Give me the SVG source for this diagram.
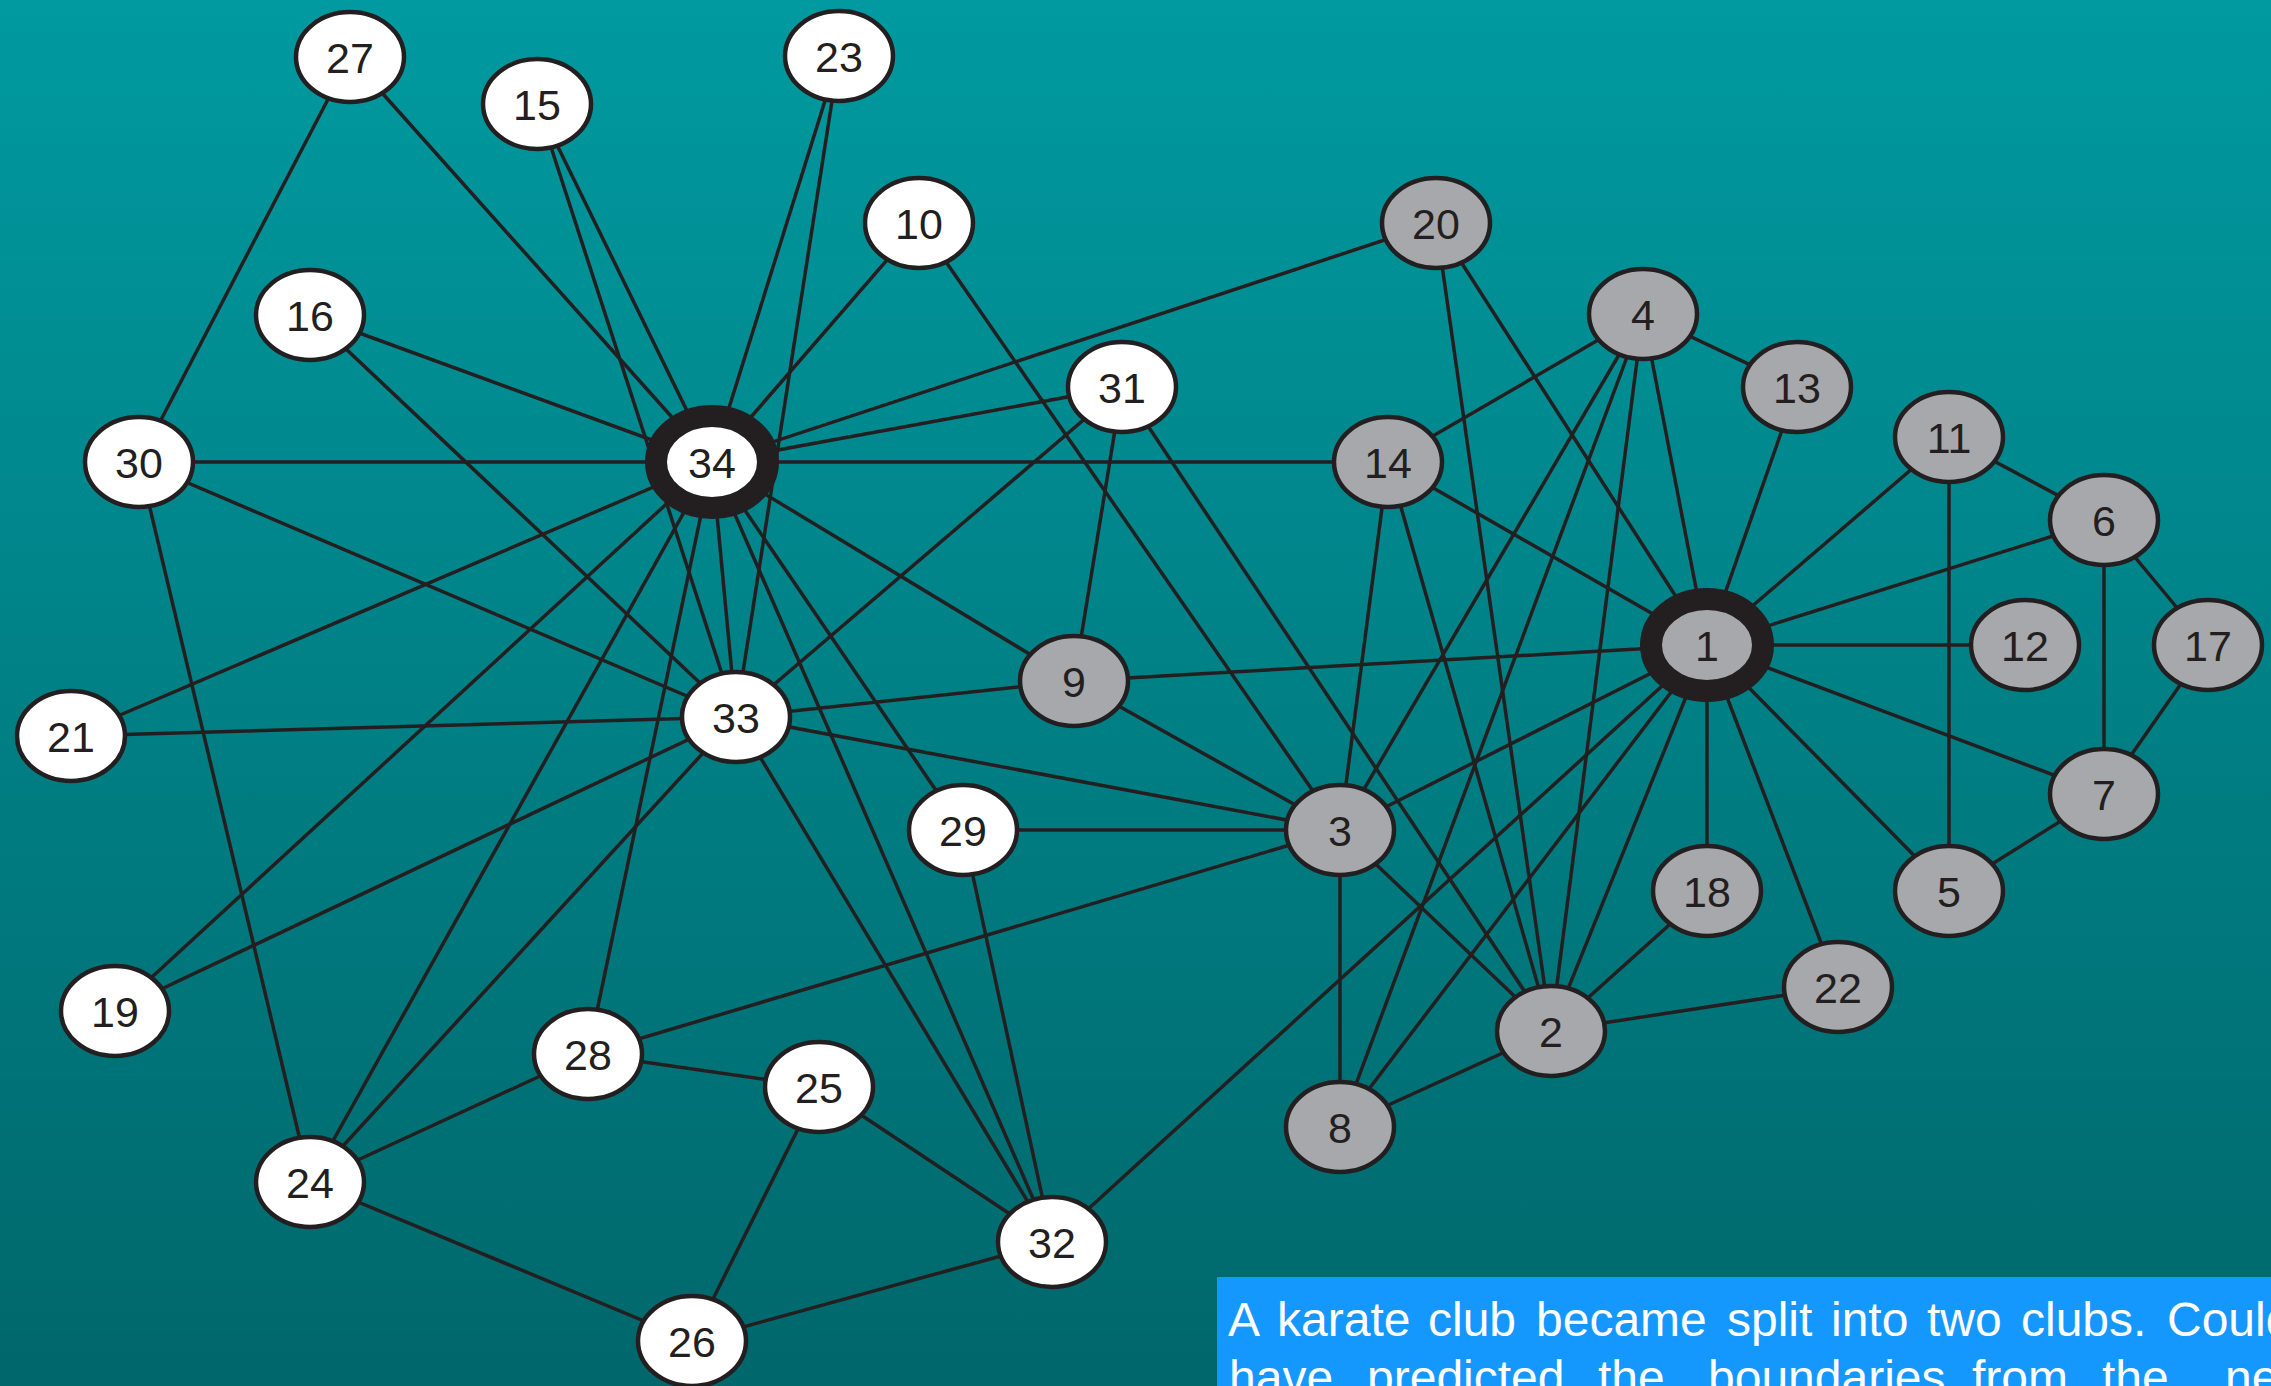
<svg xmlns="http://www.w3.org/2000/svg" width="2271" height="1386" viewBox="0 0 2271 1386">
<defs>
<linearGradient id="bg" x1="0" y1="0" x2="0" y2="1">
<stop offset="0" stop-color="#009aa0"/>
<stop offset="1" stop-color="#00676b"/>
</linearGradient>
</defs>
<style>
.e{stroke:#231f20;stroke-width:3.5;fill:none}
.n ellipse{stroke:#231f20;stroke-width:4.5}
.w ellipse{fill:#ffffff}
.g ellipse{fill:#a7a8ab}
.hub ellipse{stroke-width:22}
.n text{font-family:"Liberation Sans",Arial,sans-serif;font-size:43px;fill:#231f20;text-anchor:middle}
.cap{font-family:"Liberation Sans",Arial,sans-serif;font-size:48px;fill:#ffffff}
</style>
<rect x="0" y="0" width="2271" height="1386" fill="url(#bg)"/>
<g id="edges" class="e">
<line x1="1707" y1="645" x2="1551" y2="1031"/>
<line x1="1707" y1="645" x2="1340" y2="830"/>
<line x1="1707" y1="645" x2="1643" y2="314"/>
<line x1="1707" y1="645" x2="1949" y2="891"/>
<line x1="1707" y1="645" x2="2104" y2="520"/>
<line x1="1707" y1="645" x2="2104" y2="794"/>
<line x1="1707" y1="645" x2="1340" y2="1127"/>
<line x1="1707" y1="645" x2="1074" y2="681"/>
<line x1="1707" y1="645" x2="1949" y2="437"/>
<line x1="1707" y1="645" x2="2025" y2="645"/>
<line x1="1707" y1="645" x2="1797" y2="387"/>
<line x1="1707" y1="645" x2="1388" y2="462"/>
<line x1="1707" y1="645" x2="1707" y2="891"/>
<line x1="1707" y1="645" x2="1436" y2="223"/>
<line x1="1707" y1="645" x2="1838" y2="987"/>
<line x1="1707" y1="645" x2="1052" y2="1242"/>
<line x1="1551" y1="1031" x2="1340" y2="830"/>
<line x1="1551" y1="1031" x2="1643" y2="314"/>
<line x1="1551" y1="1031" x2="1340" y2="1127"/>
<line x1="1551" y1="1031" x2="1388" y2="462"/>
<line x1="1551" y1="1031" x2="1707" y2="891"/>
<line x1="1551" y1="1031" x2="1436" y2="223"/>
<line x1="1551" y1="1031" x2="1838" y2="987"/>
<line x1="1551" y1="1031" x2="1122" y2="387"/>
<line x1="1340" y1="830" x2="1643" y2="314"/>
<line x1="1340" y1="830" x2="1340" y2="1127"/>
<line x1="1340" y1="830" x2="1074" y2="681"/>
<line x1="1340" y1="830" x2="919" y2="223"/>
<line x1="1340" y1="830" x2="1388" y2="462"/>
<line x1="1340" y1="830" x2="588" y2="1054"/>
<line x1="1340" y1="830" x2="963" y2="830"/>
<line x1="1340" y1="830" x2="736" y2="717"/>
<line x1="1643" y1="314" x2="1340" y2="1127"/>
<line x1="1643" y1="314" x2="1797" y2="387"/>
<line x1="1643" y1="314" x2="1388" y2="462"/>
<line x1="1949" y1="891" x2="2104" y2="794"/>
<line x1="1949" y1="891" x2="1949" y2="437"/>
<line x1="2104" y1="520" x2="2104" y2="794"/>
<line x1="2104" y1="520" x2="1949" y2="437"/>
<line x1="2104" y1="520" x2="2208" y2="645"/>
<line x1="2104" y1="794" x2="2208" y2="645"/>
<line x1="1074" y1="681" x2="1122" y2="387"/>
<line x1="1074" y1="681" x2="736" y2="717"/>
<line x1="1074" y1="681" x2="712" y2="462"/>
<line x1="919" y1="223" x2="712" y2="462"/>
<line x1="1388" y1="462" x2="712" y2="462"/>
<line x1="537" y1="104" x2="736" y2="717"/>
<line x1="537" y1="104" x2="712" y2="462"/>
<line x1="310" y1="315" x2="736" y2="717"/>
<line x1="310" y1="315" x2="712" y2="462"/>
<line x1="115" y1="1011" x2="736" y2="717"/>
<line x1="115" y1="1011" x2="712" y2="462"/>
<line x1="1436" y1="223" x2="712" y2="462"/>
<line x1="71" y1="736" x2="736" y2="717"/>
<line x1="71" y1="736" x2="712" y2="462"/>
<line x1="839" y1="56" x2="736" y2="717"/>
<line x1="839" y1="56" x2="712" y2="462"/>
<line x1="310" y1="1182" x2="692" y2="1341"/>
<line x1="310" y1="1182" x2="588" y2="1054"/>
<line x1="310" y1="1182" x2="139" y2="462"/>
<line x1="310" y1="1182" x2="736" y2="717"/>
<line x1="310" y1="1182" x2="712" y2="462"/>
<line x1="819" y1="1087" x2="692" y2="1341"/>
<line x1="819" y1="1087" x2="588" y2="1054"/>
<line x1="819" y1="1087" x2="1052" y2="1242"/>
<line x1="692" y1="1341" x2="1052" y2="1242"/>
<line x1="350" y1="57" x2="139" y2="462"/>
<line x1="350" y1="57" x2="712" y2="462"/>
<line x1="588" y1="1054" x2="712" y2="462"/>
<line x1="963" y1="830" x2="1052" y2="1242"/>
<line x1="963" y1="830" x2="712" y2="462"/>
<line x1="139" y1="462" x2="736" y2="717"/>
<line x1="139" y1="462" x2="712" y2="462"/>
<line x1="1122" y1="387" x2="736" y2="717"/>
<line x1="1122" y1="387" x2="712" y2="462"/>
<line x1="1052" y1="1242" x2="736" y2="717"/>
<line x1="1052" y1="1242" x2="712" y2="462"/>
<line x1="736" y1="717" x2="712" y2="462"/>
</g>
<g id="node1" class="n g hub"><ellipse cx="1707" cy="645" rx="56" ry="46"/><text x="1707" y="661">1</text></g>
<g id="node2" class="n g"><ellipse cx="1551" cy="1031" rx="54" ry="45"/><text x="1551" y="1047">2</text></g>
<g id="node3" class="n g"><ellipse cx="1340" cy="830" rx="54" ry="45"/><text x="1340" y="846">3</text></g>
<g id="node4" class="n g"><ellipse cx="1643" cy="314" rx="54" ry="45"/><text x="1643" y="330">4</text></g>
<g id="node5" class="n g"><ellipse cx="1949" cy="891" rx="54" ry="45"/><text x="1949" y="907">5</text></g>
<g id="node6" class="n g"><ellipse cx="2104" cy="520" rx="54" ry="45"/><text x="2104" y="536">6</text></g>
<g id="node7" class="n g"><ellipse cx="2104" cy="794" rx="54" ry="45"/><text x="2104" y="810">7</text></g>
<g id="node8" class="n g"><ellipse cx="1340" cy="1127" rx="54" ry="45"/><text x="1340" y="1143">8</text></g>
<g id="node9" class="n g"><ellipse cx="1074" cy="681" rx="54" ry="45"/><text x="1074" y="697">9</text></g>
<g id="node10" class="n w"><ellipse cx="919" cy="223" rx="54" ry="45"/><text x="919" y="239">10</text></g>
<g id="node11" class="n g"><ellipse cx="1949" cy="437" rx="54" ry="45"/><text x="1949" y="453">11</text></g>
<g id="node12" class="n g"><ellipse cx="2025" cy="645" rx="54" ry="45"/><text x="2025" y="661">12</text></g>
<g id="node13" class="n g"><ellipse cx="1797" cy="387" rx="54" ry="45"/><text x="1797" y="403">13</text></g>
<g id="node14" class="n g"><ellipse cx="1388" cy="462" rx="54" ry="45"/><text x="1388" y="478">14</text></g>
<g id="node15" class="n w"><ellipse cx="537" cy="104" rx="54" ry="45"/><text x="537" y="120">15</text></g>
<g id="node16" class="n w"><ellipse cx="310" cy="315" rx="54" ry="45"/><text x="310" y="331">16</text></g>
<g id="node17" class="n g"><ellipse cx="2208" cy="645" rx="54" ry="45"/><text x="2208" y="661">17</text></g>
<g id="node18" class="n g"><ellipse cx="1707" cy="891" rx="54" ry="45"/><text x="1707" y="907">18</text></g>
<g id="node19" class="n w"><ellipse cx="115" cy="1011" rx="54" ry="45"/><text x="115" y="1027">19</text></g>
<g id="node20" class="n g"><ellipse cx="1436" cy="223" rx="54" ry="45"/><text x="1436" y="239">20</text></g>
<g id="node21" class="n w"><ellipse cx="71" cy="736" rx="54" ry="45"/><text x="71" y="752">21</text></g>
<g id="node22" class="n g"><ellipse cx="1838" cy="987" rx="54" ry="45"/><text x="1838" y="1003">22</text></g>
<g id="node23" class="n w"><ellipse cx="839" cy="56" rx="54" ry="45"/><text x="839" y="72">23</text></g>
<g id="node24" class="n w"><ellipse cx="310" cy="1182" rx="54" ry="45"/><text x="310" y="1198">24</text></g>
<g id="node25" class="n w"><ellipse cx="819" cy="1087" rx="54" ry="45"/><text x="819" y="1103">25</text></g>
<g id="node26" class="n w"><ellipse cx="692" cy="1341" rx="54" ry="45"/><text x="692" y="1357">26</text></g>
<g id="node27" class="n w"><ellipse cx="350" cy="57" rx="54" ry="45"/><text x="350" y="73">27</text></g>
<g id="node28" class="n w"><ellipse cx="588" cy="1054" rx="54" ry="45"/><text x="588" y="1070">28</text></g>
<g id="node29" class="n w"><ellipse cx="963" cy="830" rx="54" ry="45"/><text x="963" y="846">29</text></g>
<g id="node30" class="n w"><ellipse cx="139" cy="462" rx="54" ry="45"/><text x="139" y="478">30</text></g>
<g id="node31" class="n w"><ellipse cx="1122" cy="387" rx="54" ry="45"/><text x="1122" y="403">31</text></g>
<g id="node32" class="n w"><ellipse cx="1052" cy="1242" rx="54" ry="45"/><text x="1052" y="1258">32</text></g>
<g id="node33" class="n w"><ellipse cx="736" cy="717" rx="54" ry="45"/><text x="736" y="733">33</text></g>
<g id="node34" class="n w hub"><ellipse cx="712" cy="462" rx="56" ry="46"/><text x="712" y="478">34</text></g>
<g id="caption">
<rect x="1217" y="1277" width="1060" height="120" fill="#1598fe"/>
<text class="cap" y="1336"><tspan x="1228">A</tspan><tspan x="1277">karate</tspan><tspan x="1428">club</tspan><tspan x="1536">became</tspan><tspan x="1727">split</tspan><tspan x="1831">into</tspan><tspan x="1927">two</tspan><tspan x="2021">clubs.</tspan><tspan x="2167">Could</tspan></text>
<text class="cap" y="1394"><tspan x="1229">have</tspan><tspan x="1367">predicted</tspan><tspan x="1598">the</tspan><tspan x="1708">boundaries</tspan><tspan x="1972">from</tspan><tspan x="2102">the</tspan><tspan x="2225">network</tspan></text>
</g>
</svg>
